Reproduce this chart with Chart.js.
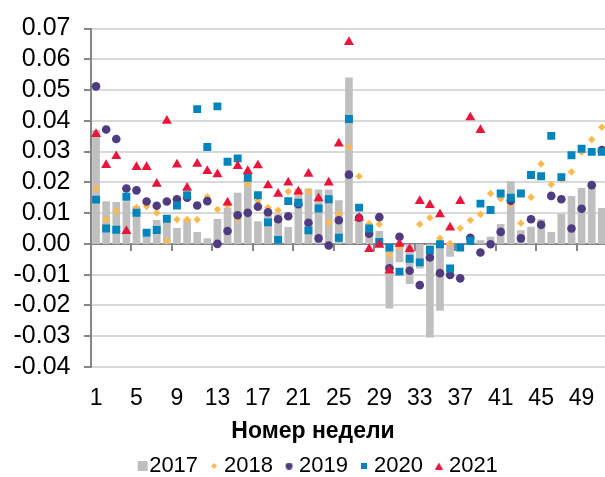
<!DOCTYPE html>
<html>
<head>
<meta charset="utf-8">
<script src="https://cdn.jsdelivr.net/npm/chart.js@4.4.1/dist/chart.umd.min.js"></script>
<style>
    html, body { margin: 0; padding: 0; background: #fff; overflow: hidden; }
    canvas { display: block; }
</style>
</head>
<body>
<canvas id="weeklyChart" width="630" height="487"></canvas>
<script>
// Weeks 1..52 (the last week falls outside the visible frame)
const weekLabels = Array.from({ length: 52 }, (_, i) => String(i + 1));
const shownTicks = ['1', '5', '9', '13', '17', '21', '25', '29', '33', '37', '41', '45', '49'];

const share2017 = [0.037, 0.0139, 0.0136, 0.0139, 0.0123, 0.0023, 0.0078, 0.0072, 0.0052, 0.008,
    0.0039, 0.0018, 0.0081, 0.0118, 0.0166, 0.0204, 0.0074, 0.0098, 0.0098, 0.0055,
    0.018, 0.018, 0.0177, 0.0177, 0.0142, 0.0541, 0.008, 0.0058, 0.0042, -0.021,
    -0.006, -0.013, -0.008, -0.0304, -0.0217, -0.0042, -0.001, 0.0003, 0.0012, 0.0023,
    0.0065, 0.0204, 0.0044, 0.0056, 0.008, 0.0039, 0.0098, 0.0156, 0.0182, 0.0192,
    0.0117, null];

const share2018 = [0.018, 0.0079, 0.0107, 0.015, 0.0118, 0.0122, 0.0101, 0.001, 0.0079, 0.0079,
    0.0079, 0.0153, 0.0112, 0.0125, 0.0082, 0.0195, 0.0139, 0.0118, 0.0109, 0.017,
    0.0165, 0.017, 0.0145, 0.0069, 0.0098, 0.0314, 0.022, 0.0066, 0.0064, -0.0036,
    -0.001, -0.005, 0.0064, 0.0085, 0.0018, 0.0001, 0.0051, 0.0077, 0.0096, 0.0164,
    0.0147, 0.0129, 0.0067, 0.0152, 0.026, 0.0193, 0.021, 0.0234, 0.0298, 0.0339,
    0.0379, null];

const share2019 = [0.0512, 0.0372, 0.0341, 0.018, 0.0174, 0.0138, 0.0124, 0.0138, 0.0145, 0.015,
    0.0125, 0.0139, 0, 0.0042, 0.0093, 0.0101, 0.0121, 0.0103, 0.008, 0.009,
    0.0129, 0.0069, 0.0018, -0.0005, 0.0077, 0.0225, 0.0085, 0.0033, 0.0087, -0.0079,
    0.0023, -0.0087, -0.0134, -0.0044, -0.0095, -0.0101, -0.0112, 0.002, -0.0028, -0.0001,
    0.0039, 0.014, 0.0018, 0.008, 0.0062, 0.0156, 0.0145, 0.005, 0.0114, 0.0191,
    0.0305, null];

const share2020 = [0.0144, 0.005, 0.0046, 0.0153, 0.0101, 0.0036, 0.0045, 0.0082, 0.0125, 0.0158,
    0.0438, 0.0315, 0.0447, 0.0267, 0.0278, 0.0215, 0.0158, 0.007, 0.0013, 0.0139,
    0.0134, 0.0044, 0.0115, 0.0145, 0.002, 0.0406, 0.0118, 0.005, 0.0006, -0.0012,
    -0.009, -0.0048, -0.006, -0.002, -0.0001, -0.008, -0.0012, 0.001, 0.0131, 0.011,
    0.0164, 0.015, 0.0164, 0.0224, 0.022, 0.0351, 0.0217, 0.0288, 0.0309, 0.0299,
    0.0299, null];

const share2021 = [0.0357, 0.0256, 0.0285, 0.0042, 0.025, 0.025, 0.0195, 0.04, 0.0258, 0.0182,
    0.026, 0.0237, 0.0226, 0.0134, 0.0253, 0.0237, 0.0255, 0.019, 0.0163, 0.0199,
    0.017, 0.0228, 0.0148, 0.0199, 0.0326, 0.0656, 0.0085, -0.0017, -0.0003, -0.0087,
    0, -0.0017, 0.0139, 0.0126, 0.0096, 0.0053, 0.0139, 0.0411, 0.037, null,
    null, null, null, null, null, null, null, null, null, null,
    null, null];

const colors = {
    y2017: '#BFBFBF',
    y2018: '#FDBB4F',
    y2019: '#4E3B80',
    y2020: '#0084BD',
    y2021: '#E9163B',
    axis: '#868686',
    grid: '#D9D9D9'
};

Chart.defaults.font.family = '"Liberation Sans", Arial, sans-serif';
Chart.defaults.color = '#000';

// Small legend markers. The shape is shifted right by `off` inside its canvas,
// so it sits close to the label text like in the original legend.
function makeMark(shape, color, w, h, off) {
    const cw = 2 * off + w + 2;
    const c = document.createElement('canvas');
    c.width = cw;
    c.height = h;
    const g = c.getContext('2d');
    const x0 = cw / 2 + off - w / 2;
    g.fillStyle = color;
    g.beginPath();
    if (shape === 'square') {
        g.rect(x0, 0, w, h);
    } else if (shape === 'diamond') {
        g.moveTo(x0 + w / 2, 0); g.lineTo(x0 + w, h / 2); g.lineTo(x0 + w / 2, h); g.lineTo(x0, h / 2); g.closePath();
    } else if (shape === 'circle') {
        g.arc(x0 + w / 2, h / 2, w / 2, 0, Math.PI * 2);
    } else if (shape === 'triangle') {
        g.moveTo(x0 + w / 2, 0); g.lineTo(x0 + w, h); g.lineTo(x0, h); g.closePath();
    }
    g.fill();
    return c;
}

const legendMarks = [
    makeMark('square', colors.y2017, 10, 10, 9.5),
    makeMark('diamond', colors.y2018, 6, 6, 6),
    makeMark('circle', colors.y2019, 7, 7, 6),
    makeMark('square', colors.y2020, 6, 6, 6),
    makeMark('triangle', colors.y2021, 8, 7, 6)
];

function pointSeries(label, data, color, style, radius, order) {
    return {
        type: 'line',
        label: label,
        data: data,
        showLine: false,
        pointStyle: style,
        pointRadius: radius,
        pointBorderWidth: 0,
        backgroundColor: color,
        borderColor: color,
        order: order
    };
}

// true on every fourth category boundary (between weeks 4|5, 8|9, ...)
function isQuarterMark(c) {
    return c.index > 0 && c.index < 52 && c.index % 4 === 0;
}

const ctx = document.getElementById('weeklyChart');

new Chart(ctx, {
    type: 'bar',
    data: {
        labels: weekLabels,
        datasets: [
            {
                type: 'bar',
                label: '2017',
                data: share2017,
                backgroundColor: colors.y2017,
                barPercentage: 0.76,
                categoryPercentage: 1,
                order: 5
            },
            pointSeries('2018', share2018, colors.y2018, 'rectRot', 3.8, 4),
            pointSeries('2019', share2019, colors.y2019, 'circle', 4.3, 3),
            pointSeries('2020', share2020, colors.y2020, 'rect', 5.6, 2),
            pointSeries('2021', share2021, colors.y2021, 'triangle', 5.8, 1)
        ]
    },
    options: {
        responsive: false,
        animation: false,
        layout: {
            padding: { left: 0, right: 4, top: 27, bottom: 0 }
        },
        plugins: {
            tooltip: { enabled: false },
            title: {
                display: true,
                text: 'Номер недели',
                position: 'bottom',
                weight: 500, // sit between the axis and the legend
                color: '#000',
                font: { size: 23, weight: 'bold' },
                padding: { top: -13, bottom: 4.8 }
            },
            legend: {
                position: 'bottom',
                labels: {
                    usePointStyle: true,
                    boxWidth: 10,
                    boxHeight: 10,
                    padding: 5,
                    color: '#000',
                    font: { size: 22 },
                    sort: (a, b) => a.datasetIndex - b.datasetIndex,
                    generateLabels: function(chart) {
                        const items = Chart.defaults.plugins.legend.labels.generateLabels(chart);
                        items.forEach(item => { item.pointStyle = legendMarks[item.datasetIndex]; });
                        return items;
                    }
                }
            }
        },
        scales: {
            x: {
                grid: { display: false, drawTicks: false },
                border: { display: false },
                ticks: {
                    autoSkip: false,
                    maxRotation: 0,
                    padding: 18,
                    color: '#000',
                    font: { size: 23 },
                    callback: function(value, index) {
                        const label = weekLabels[index];
                        return shownTicks.includes(label) ? label : '';
                    }
                }
            },
            // axis line at zero with tick marks every four weeks
            x2: {
                type: 'category',
                axis: 'x',
                position: { y: 0 },
                offset: true,
                grid: {
                    offset: true,
                    drawOnChartArea: false,
                    tickLength: 6,
                    lineWidth: 2,
                    color: c => isQuarterMark(c) ? colors.axis : 'transparent',
                    tickColor: c => isQuarterMark(c) ? colors.axis : 'transparent'
                },
                border: { color: colors.axis, width: 2 },
                ticks: { display: false }
            },
            y: {
                min: -0.04,
                max: 0.07,
                ticks: {
                    stepSize: 0.01,
                    autoSkip: false,
                    padding: 13.5,
                    color: '#000',
                    font: { size: 25 },
                    callback: function(value) {
                        return Math.abs(value) < 1e-9 ? '0.00' : value.toFixed(2);
                    }
                },
                grid: {
                    color: colors.grid,
                    lineWidth: 2,
                    tickLength: 7,
                    tickColor: colors.axis,
                    tickWidth: 2
                },
                border: { color: colors.axis, width: 2 }
            }
        }
    }
});
</script>
</body>
</html>
